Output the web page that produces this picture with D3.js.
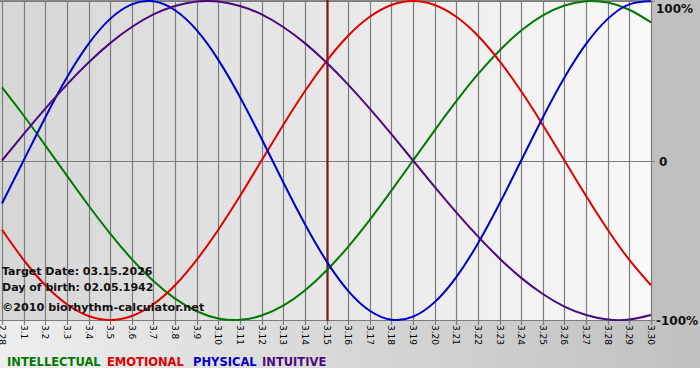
<!DOCTYPE html>
<html>
<head>
<meta charset="utf-8">
<script src="https://cdn.jsdelivr.net/npm/d3@7/dist/d3.min.js"></script>
<style>
html,body{margin:0;padding:0;background:#fff;}
svg{display:block;}
</style>
</head>
<body>
<svg id="chart" width="700" height="380"></svg>
<script>
const dayLabels = ["2.28","3.1","3.2","3.3","3.4","3.5","3.6","3.7","3.8","3.9","3.10","3.11","3.12","3.13","3.14","3.15","3.16","3.17","3.18","3.19","3.20","3.21","3.22","3.23","3.24","3.25","3.26","3.27","3.28","3.29","3.30"];
const intellectual = [0.458,0.282,0.095,-0.095,-0.282,-0.458,-0.618,-0.756,-0.866,-0.945,-0.990,-0.999,-0.972,-0.910,-0.815,-0.690,-0.541,-0.372,-0.189,0.000,0.189,0.372,0.541,0.690,0.815,0.910,0.972,0.999,0.990,0.945,0.866];
const emotional = [-0.434,-0.623,-0.782,-0.901,-0.975,-1.000,-0.975,-0.901,-0.782,-0.623,-0.434,-0.223,0.000,0.223,0.434,0.623,0.782,0.901,0.975,1.000,0.975,0.901,0.782,0.623,0.434,0.223,0.000,-0.223,-0.434,-0.623,-0.782];
const physical = [-0.270,0.000,0.270,0.520,0.731,0.888,0.979,0.998,0.942,0.817,0.631,0.398,0.136,-0.136,-0.398,-0.631,-0.817,-0.942,-0.998,-0.979,-0.888,-0.731,-0.520,-0.270,0.000,0.270,0.520,0.731,0.888,0.979,0.998];
const intuitive = [0.000,0.165,0.325,0.476,0.614,0.736,0.837,0.916,0.969,0.997,0.997,0.969,0.916,0.837,0.736,0.614,0.476,0.325,0.165,0.000,-0.165,-0.325,-0.476,-0.614,-0.736,-0.837,-0.916,-0.969,-0.997,-0.997,-0.969];
const targetLabel = "3.15";
const yTickValues = [1, 0, -1];
const yTickLabels = ["100%", "0", "-100%"];
const seriesNames = ["INTELLECTUAL", "EMOTIONAL", "PHYSICAL", "INTUITIVE"];
const infoLines = ["Target Date: 03.15.2026", "Day of birth: 02.05.1942"];
const copyright = "\u00a92010 biorhythm-calculator.net";

const colors = {INTELLECTUAL:"#007a00", EMOTIONAL:"#e00000", PHYSICAL:"#0000cc", INTUITIVE:"#4b0a7e"};
const seriesData = {INTELLECTUAL:intellectual, EMOTIONAL:emotional, PHYSICAL:physical, INTUITIVE:intuitive};

const svg = d3.select("#chart");
const defs = svg.append("defs");
const g1 = defs.append("linearGradient").attr("id","bg").attr("x1","0").attr("x2","1").attr("y1","0").attr("y2","0");
g1.append("stop").attr("offset","0").attr("stop-color","#eeeeee");
g1.append("stop").attr("offset","1").attr("stop-color","#c0c0c0");
const g2 = defs.append("linearGradient").attr("id","plotbg").attr("x1","0").attr("x2","1").attr("y1","0").attr("y2","0");
g2.append("stop").attr("offset","0").attr("stop-color","#d6d6d6");
g2.append("stop").attr("offset","1").attr("stop-color","#f9f9f9");

const plotL = 0, plotR = 652, plotT = 0, plotB = 321;
const x = d3.scalePoint().domain(dayLabels).range([2, 651]);
const y = d3.scaleLinear().domain([-1, 1]).range([320, 1]);

svg.append("rect").attr("x",0).attr("y",0).attr("width",700).attr("height",368).attr("fill","url(#bg)");
svg.append("rect").attr("x",plotR).attr("y",0).attr("width",700-plotR).attr("height",plotB+2).attr("fill","#c0c0c0");
svg.append("rect").attr("x",plotL).attr("y",plotT).attr("width",plotR-plotL).attr("height",plotB-plotT).attr("fill","url(#plotbg)");

// vertical grid lines
svg.append("g").selectAll("line").data(dayLabels).join("line")
  .attr("x1", d => Math.round(x(d)) + 0.5).attr("x2", d => Math.round(x(d)) + 0.5)
  .attr("y1", plotT).attr("y2", plotB + 4)
  .attr("stroke", "#7c7c7c").attr("stroke-width", 1.2);

// horizontal lines
svg.append("g").selectAll("line").data(yTickValues).join("line")
  .attr("x1", plotL).attr("x2", plotR + 3)
  .attr("y1", d => Math.round(y(d)) + 0.5).attr("y2", d => Math.round(y(d)) + 0.5)
  .attr("stroke", "#7c7c7c").attr("stroke-width", 1.2);
svg.append("line").attr("x1",plotL).attr("x2",plotR).attr("y1",0.5).attr("y2",0.5).attr("stroke","#8a8a8a");

// target line
svg.append("line")
  .attr("x1", Math.round(x(targetLabel)) + 0.5).attr("x2", Math.round(x(targetLabel)) + 0.5)
  .attr("y1", plotT).attr("y2", plotB)
  .attr("stroke", "#7a1a1a").attr("stroke-width", 2.2);

// curves
const line = d3.line().x((d,i) => x(dayLabels[i])).y(d => y(d)).curve(d3.curveNatural);
const clip = defs.append("clipPath").attr("id","clipPlot");
clip.append("rect").attr("x",plotL).attr("y",plotT).attr("width",plotR-plotL+1).attr("height",plotB-plotT);
const curves = svg.append("g").attr("clip-path","url(#clipPlot)");
["INTELLECTUAL","EMOTIONAL","PHYSICAL","INTUITIVE"].forEach(name => {
  curves.append("path").datum(seriesData[name])
    .attr("d", line).attr("fill","none")
    .attr("stroke", colors[name]).attr("stroke-width", 2);
});

// x tick labels (rotated)
svg.append("g").selectAll("text").data(dayLabels).join("text")
  .attr("transform", d => `translate(${Math.round(x(d)) + 0.5},${plotB + 4}) rotate(90)`)
  .attr("dy", "0.35em")
  .attr("font-family", "DejaVu Sans, Verdana, sans-serif")
  .attr("font-size", 9)
  .attr("fill", "#000")
  .text(d => d);

// right labels
svg.append("g").selectAll("text").data(yTickValues).join("text")
  .attr("x", (d,i) => i === 1 ? 659 : 656)
  .attr("y", d => Math.max(13, y(d) + 5))
  .attr("font-family", "DejaVu Sans, Verdana, sans-serif")
  .attr("font-weight", "bold")
  .attr("font-size", 12)
  .attr("fill", "#111")
  .text((d,i) => yTickLabels[i]);

// info texts
svg.append("g").selectAll("text").data(infoLines).join("text")
  .attr("x", 2).attr("y", (d,i) => 275 + i * 16)
  .attr("font-family", "DejaVu Sans, Verdana, sans-serif")
  .attr("font-weight", "bold").attr("font-size", 11)
  .attr("fill", "#111")
  .text(d => d);
svg.append("text").attr("x", 2).attr("y", 311)
  .attr("font-family", "DejaVu Sans, Verdana, sans-serif")
  .attr("font-weight", "bold").attr("font-size", 11.2)
  .attr("fill", "#111")
  .text(copyright);

// legend
const legendX = [7, 107, 193, 262];
svg.append("g").selectAll("text").data(seriesNames).join("text")
  .attr("x", (d,i) => legendX[i]).attr("y", 366)
  .attr("font-family", "DejaVu Sans, Verdana, sans-serif")
  .attr("font-weight", "bold").attr("font-size", 11.5)
  .attr("fill", d => colors[d])
  .text(d => d);
</script>
</body>
</html>
